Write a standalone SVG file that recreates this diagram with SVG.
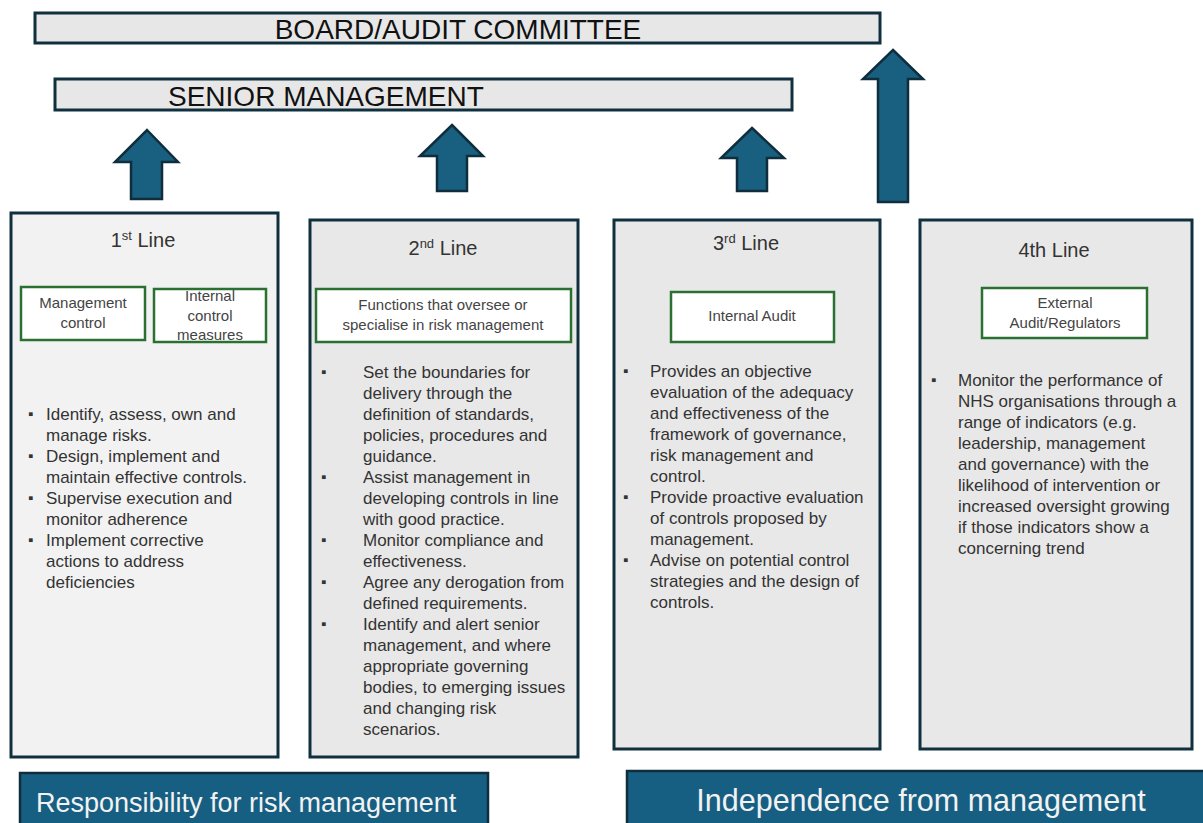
<svg xmlns="http://www.w3.org/2000/svg" width="1203" height="823" viewBox="0 0 1203 823">
<style>
.bar{fill:#e7e7e7;stroke:#10303f;stroke-width:3}
.col{stroke:#10303f;stroke-width:3}
.gbox{fill:#ffffff;stroke:#2a7030;stroke-width:2.5}
.arrow{fill:#195f80;stroke:#0f2e3d;stroke-width:2.5;stroke-linejoin:miter}
.band{fill:#175f82;stroke:#0f2e3d;stroke-width:2.5}
.big{font-family:"Liberation Sans",Arial,sans-serif;font-size:28px;fill:#111}
.title{font-family:"Liberation Sans",Arial,sans-serif;font-size:20px;fill:#333;text-anchor:middle}
.small{font-family:"Liberation Sans",Arial,sans-serif;font-size:15px;fill:#444;text-anchor:middle}
.body{font-family:"Liberation Sans",Arial,sans-serif;font-size:17px;fill:#333}
.bul{font-size:15px}
.band-t{font-family:"Liberation Sans",Arial,sans-serif;fill:#f2f2f2}
</style>
<rect width="1203" height="823" fill="#ffffff"/>

<g id="board">
<rect class="bar" x="35" y="13" width="845" height="30"/>
<text class="big" x="458" y="39" text-anchor="middle">BOARD/AUDIT COMMITTEE</text>
</g>
<g id="senior-management">
<rect class="bar" x="55" y="79" width="737" height="31"/>
<text class="big" x="168" y="106">SENIOR MANAGEMENT</text>
</g>

<g id="connectors">
<polygon class="arrow" points="147,130 178,162 162,162 162,199 131,199 131,162 115,162"/>
<polygon class="arrow" points="452,125 483,156 467,156 467,191 437,191 437,156 420,156"/>
<polygon class="arrow" points="752,128 784,158 767,158 767,191 737,191 737,158 721,158"/>
<polygon class="arrow" points="893,50 923,79 908,79 908,202 878,202 878,79 863,79"/>
</g>

<g id="line1">
<rect class="col" x="11" y="213" width="267" height="544" fill="#f2f2f2"/>
<text class="title" x="143" y="247">1<tspan font-size="13" dy="-7">st</tspan><tspan dy="7"> Line</tspan></text>
<rect class="gbox" x="21" y="287" width="124" height="53"/>
<text class="small" x="83" y="308">Management</text>
<text class="small" x="83" y="328">control</text>
<rect class="gbox" x="154" y="289" width="112" height="53"/>
<text class="small" x="210" y="301">Internal</text>
<text class="small" x="210" y="321">control</text>
<text class="small" x="210" y="340">measures</text>
<g class="body">
<text class="bul" x="28" y="419">▪</text>
<text x="46" y="420">Identify, assess, own and</text>
<text x="46" y="441">manage risks.</text>
<text class="bul" x="28" y="461">▪</text>
<text x="46" y="462">Design, implement and</text>
<text x="46" y="483">maintain effective controls.</text>
<text class="bul" x="28" y="503">▪</text>
<text x="46" y="504">Supervise execution and</text>
<text x="46" y="525">monitor adherence</text>
<text class="bul" x="28" y="545">▪</text>
<text x="46" y="546">Implement corrective</text>
<text x="46" y="567">actions to address</text>
<text x="46" y="588">deficiencies</text>
</g>
</g>

<g id="line2">
<rect class="col" x="310" y="220" width="268" height="537" fill="#e8e8e8"/>
<text class="title" x="443" y="255">2<tspan font-size="13" dy="-7">nd</tspan><tspan dy="7"> Line</tspan></text>
<rect class="gbox" x="316" y="289" width="255" height="53"/>
<text class="small" x="443" y="310">Functions that oversee or</text>
<text class="small" x="443" y="330">specialise in risk management</text>
<g class="body">
<text class="bul" x="321" y="377">▪</text>
<text x="363" y="378">Set the boundaries for</text>
<text x="363" y="399">delivery through the</text>
<text x="363" y="420">definition of standards,</text>
<text x="363" y="441">policies, procedures and</text>
<text x="363" y="462">guidance.</text>
<text class="bul" x="321" y="482">▪</text>
<text x="363" y="483">Assist management in</text>
<text x="363" y="504">developing controls in line</text>
<text x="363" y="525">with good practice.</text>
<text class="bul" x="321" y="545">▪</text>
<text x="363" y="546">Monitor compliance and</text>
<text x="363" y="567">effectiveness.</text>
<text class="bul" x="321" y="587">▪</text>
<text x="363" y="588">Agree any derogation from</text>
<text x="363" y="609">defined requirements.</text>
<text class="bul" x="321" y="629">▪</text>
<text x="363" y="630">Identify and alert senior</text>
<text x="363" y="651">management, and where</text>
<text x="363" y="672">appropriate governing</text>
<text x="363" y="693">bodies, to emerging issues</text>
<text x="363" y="714">and changing risk</text>
<text x="363" y="735">scenarios.</text>
</g>
</g>

<g id="line3">
<rect class="col" x="614" y="220" width="266" height="529" fill="#e8e8e8"/>
<text class="title" x="746" y="250">3<tspan font-size="13" dy="-7">rd</tspan><tspan dy="7"> Line</tspan></text>
<rect class="gbox" x="671" y="292" width="163" height="50"/>
<text class="small" x="752" y="321">Internal Audit</text>
<g class="body">
<text class="bul" x="623" y="376">▪</text>
<text x="650" y="377">Provides an objective</text>
<text x="650" y="398">evaluation of the adequacy</text>
<text x="650" y="419">and effectiveness of the</text>
<text x="650" y="440">framework of governance,</text>
<text x="650" y="461">risk management and</text>
<text x="650" y="482">control.</text>
<text class="bul" x="623" y="502">▪</text>
<text x="650" y="503">Provide proactive evaluation</text>
<text x="650" y="524">of controls proposed by</text>
<text x="650" y="545">management.</text>
<text class="bul" x="623" y="565">▪</text>
<text x="650" y="566">Advise on potential control</text>
<text x="650" y="587">strategies and the design of</text>
<text x="650" y="608">controls.</text>
</g>
</g>

<g id="line4">
<rect class="col" x="920" y="220" width="272" height="529" fill="#e8e8e8"/>
<text class="title" x="1054" y="257">4th Line</text>
<rect class="gbox" x="982" y="288" width="165" height="50"/>
<text class="small" x="1065" y="308">External</text>
<text class="small" x="1065" y="328">Audit/Regulators</text>
<g class="body">
<text class="bul" x="931" y="385">▪</text>
<text x="958" y="386">Monitor the performance of</text>
<text x="958" y="407">NHS organisations through a</text>
<text x="958" y="428">range of indicators (e.g.</text>
<text x="958" y="449">leadership, management</text>
<text x="958" y="470">and governance) with the</text>
<text x="958" y="491">likelihood of intervention or</text>
<text x="958" y="512">increased oversight growing</text>
<text x="958" y="533">if those indicators show a</text>
<text x="958" y="554">concerning trend</text>
</g>
</g>

<g id="responsibility">
<rect class="band" x="20" y="773" width="468" height="54"/>
<text class="band-t" x="36" y="812" font-size="27">Responsibility for risk management</text>
</g>
<g id="independence">
<rect class="band" x="627" y="771" width="580" height="56"/>
<text class="band-t" x="921" y="811" font-size="30.5" text-anchor="middle">Independence from management</text>
</g>
</svg>
